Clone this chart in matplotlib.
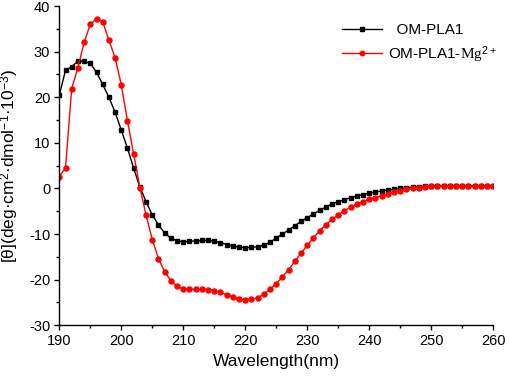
import numpy as np
import matplotlib
matplotlib.use("Agg")
import matplotlib.pyplot as plt
from matplotlib.ticker import MultipleLocator

plt.rcParams['font.family'] = ['Liberation Sans', 'DejaVu Sans']
plt.rcParams['mathtext.fontset'] = 'custom'
plt.rcParams['mathtext.rm'] = 'Liberation Sans'
plt.rcParams['mathtext.it'] = 'Liberation Serif'
plt.rcParams['axes.unicode_minus'] = False

wavelength = list(range(190, 261))

om_pla1 = [20.5, 25.9, 26.7, 27.9, 27.9, 27.4, 25.5, 22.8, 20.0, 16.7,
           12.8, 8.8, 4.4, 0.3, -2.9, -5.8, -8.0, -9.8, -10.9, -11.5,
           -11.7, -11.6, -11.5, -11.4, -11.4, -11.6, -11.9, -12.3, -12.6, -12.9,
           -13.0, -12.9, -12.8, -12.4, -11.8, -10.9, -10.0, -9.1, -8.2, -7.2,
           -6.4, -5.6, -4.8, -4.1, -3.4, -2.9, -2.5, -2.0, -1.7, -1.35,
           -1.05, -0.8, -0.57, -0.35, -0.2, 0.0, 0.15, 0.3, 0.4, 0.5,
           0.55, 0.55, 0.55, 0.55, 0.5, 0.5, 0.5, 0.5, 0.5, 0.5, 0.5]

om_pla1_mg = [2.6, 4.5, 21.9, 26.5, 32.0, 36.0, 37.2, 36.6, 32.5, 28.7,
              22.7, 14.8, 7.5, 0.2, -5.9, -11.2, -15.4, -18.3, -20.2, -21.5,
              -22.0, -22.1, -22.1, -22.1, -22.2, -22.4, -22.8, -23.3, -23.8, -24.3,
              -24.4, -24.3, -24.0, -23.2, -22.1, -20.9, -19.4, -17.8, -16.0, -14.2,
              -12.5, -10.8, -9.3, -8.0, -6.8, -5.8, -4.9, -4.1, -3.5, -2.9,
              -2.4, -2.0, -1.6, -1.2, -0.8, -0.5, -0.2, 0.0, 0.2, 0.35,
              0.45, 0.55, 0.6, 0.6, 0.6, 0.6, 0.6, 0.6, 0.6, 0.6, 0.6]

labels = ["  OM-PLA1", r"OM-PLA1-$Mg^{\mathit{2+}}$"]

fig = plt.figure(figsize=(5.1, 3.76), dpi=100)
ax = fig.add_axes([0.1163, 0.135, 0.8507, 0.849])

ax.plot(wavelength, om_pla1, color='black', lw=1.0, marker='s', ms=3.2,
        label=labels[0])
ax.plot(wavelength, om_pla1_mg, color='#ff0000', lw=1.0, marker='o', ms=3.6,
        label=labels[1])

ax.set_xlim(190, 260)
ax.set_ylim(-30, 40)
ax.xaxis.set_major_locator(MultipleLocator(10))
ax.xaxis.set_minor_locator(MultipleLocator(5))
ax.yaxis.set_major_locator(MultipleLocator(10))
ax.yaxis.set_minor_locator(MultipleLocator(5))
for s in ['top', 'right']:
    ax.spines[s].set_visible(False)
for s in ['left', 'bottom']:
    ax.spines[s].set_linewidth(1.0)
ax.tick_params(which='major', direction='out', length=3.5, width=1.0,
               labelsize=10.5, pad=3)
ax.tick_params(which='minor', direction='out', length=2, width=1.0)

ax.set_xlabel("Wavelength(nm)", fontsize=12.5, labelpad=4)
ax.set_ylabel(r"[θ](deg·cm$^{2}$·dmol$^{-1}$·10$^{-3}$)", fontsize=12.5,
              labelpad=6)

leg = ax.legend(loc='upper left', bbox_to_anchor=(0.62, 0.99), frameon=False,
                fontsize=11, handlelength=2.6, handletextpad=0.4,
                labelspacing=0.45, numpoints=1, markerscale=0.9)

fig.savefig("out.png", dpi=100)
